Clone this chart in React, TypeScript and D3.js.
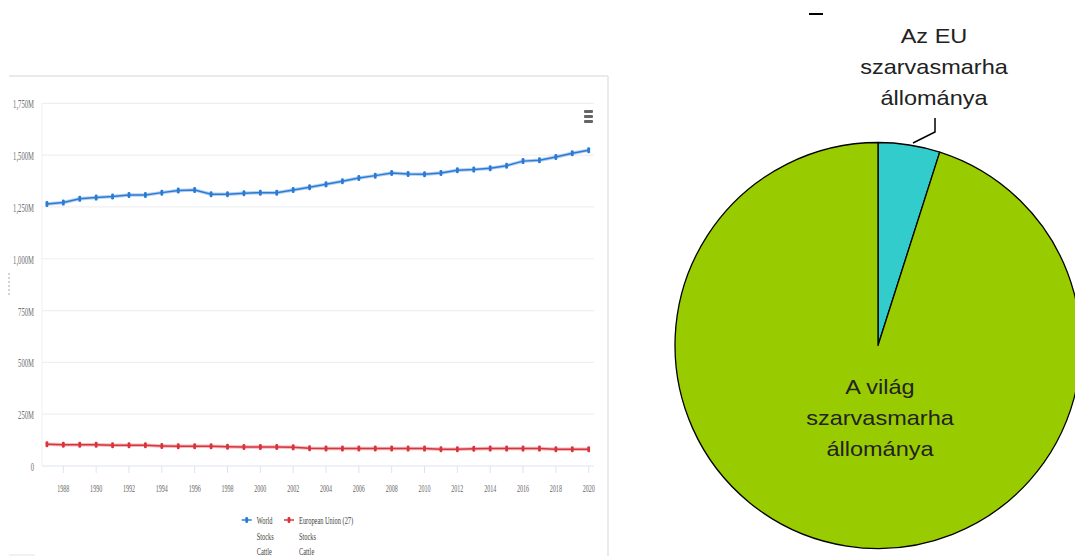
import React from "react";
import * as d3 from "d3";

// Annual cattle stocks, millions of head
const years = d3.range(1987, 2021);
const worldStocks = [
  1264, 1271, 1289, 1295, 1300, 1308, 1308, 1319, 1329, 1332,
  1311, 1311, 1316, 1319, 1319, 1332, 1345, 1359, 1374, 1390,
  1401, 1414, 1409, 1408, 1414, 1427, 1430, 1437, 1449, 1471,
  1475, 1491, 1509, 1524,
];
const euStocks = [
  105, 103, 103, 103, 100, 100, 100, 97, 95, 95,
  95, 93, 92, 92, 92, 90, 86, 85, 85, 85,
  85, 85, 84, 84, 81, 81, 83, 84, 84, 84,
  84, 81, 81, 81,
];
const yTicks = [0, 250, 500, 750, 1000, 1250, 1500, 1750];
const yTickLabels = ["0", "250M", "500M", "750M", "1,000M", "1,250M", "1,500M", "1,750M"];
const xTickYears = d3.range(1988, 2021, 2);

const seriesNames = ["World", "European Union (27)"];
const seriesColors = ["#2b7bd6", "#d9343c"];
const legendSubLines = ["Stocks", "Cattle"];

// Pie: EU herd vs the rest of the world herd
const pieLabels = ["Az EU szarvasmarha állománya", "A világ szarvasmarha állománya"];
const pieValues = [75, 1450];
const pieColors = ["#33cccc", "#99cc00"];

const SERIF = "'Liberation Serif', 'DejaVu Serif', serif";
const SANS = "'Liberation Sans', Arial, sans-serif";

export default function App() {
  const x = d3.scaleLinear().domain([1987, 2020]).range([46.9, 588.7]);
  const y = d3.scaleLinear().domain([0, 1750]).range([466, 103.3]);
  const plotLeft = 42;
  const plotRight = 594;

  const line = d3
    .line<number>()
    .x((_, i) => x(years[i]))
    .y((d) => y(d));

  const series = [worldStocks, euStocks];

  // pie geometry
  const cx = 878;
  const cy = 345.5;
  const r = 203;
  const arcs = d3.pie<number>().sort(null).startAngle(0).endAngle(2 * Math.PI)(pieValues);
  const arcGen = d3.arc<d3.PieArcDatum<number>>().innerRadius(0).outerRadius(r);

  const condensed = (tx: number, ty: number, sx = 0.55) => `translate(${tx},${ty}) scale(${sx},1)`;

  return (
    <svg
      width={1075}
      height={556}
      style={{ position: "absolute", left: 0, top: 0, background: "#fff" }}
    >
      {/* chart frame */}
      <line x1={9} x2={608} y1={76} y2={76} stroke="#e3e3e3" strokeWidth={1.5} />
      <line x1={608} x2={608} y1={76} y2={556} stroke="#e3e3e3" strokeWidth={1.5} />
      <line x1={9} x2={35} y1={555} y2={555} stroke="#e3e3e3" strokeWidth={1} />

      {/* gridlines */}
      {yTicks.map((t) => (
        <line
          key={t}
          x1={plotLeft}
          x2={plotRight}
          y1={y(t)}
          y2={y(t)}
          stroke={t === 0 ? "#dde3ee" : "#efefef"}
          strokeWidth={1.2}
        />
      ))}
      <line x1={plotLeft} x2={plotLeft} y1={103} y2={466} stroke="#f0f0f0" strokeWidth={1} />

      {/* y tick labels */}
      {yTicks.map((t, i) => (
        <text
          key={t}
          transform={condensed(34, y(t) + 5, 0.58)}
          textAnchor="end"
          fontFamily={SERIF}
          fontSize={11.5}
          fill="#707070"
        >
          {yTickLabels[i]}
        </text>
      ))}
      {/* rotated axis title stub */}
      <line x1={9} x2={9} y1={273} y2={297} stroke="#aaa" strokeWidth={1} strokeDasharray="2,2" />

      {/* x ticks */}
      {xTickYears.map((yr) => (
        <g key={yr}>
          <line x1={x(yr)} x2={x(yr)} y1={466} y2={473} stroke="#dde3ee" strokeWidth={1} />
          <text
            transform={condensed(x(yr), 492)}
            textAnchor="middle"
            fontFamily={SERIF}
            fontSize={11}
            fill="#666"
          >
            {yr}
          </text>
        </g>
      ))}

      {/* series */}
      {series.map((vals, s) => (
        <g key={s}>
          <path d={line(vals) || ""} fill="none" stroke={seriesColors[s]} strokeOpacity={0.35} strokeWidth={3.5} />
          <path d={line(vals) || ""} fill="none" stroke={seriesColors[s]} strokeWidth={1.5} />
          {vals.map((v, i) => (
            <rect
              key={i}
              x={x(years[i]) - 1.4}
              y={y(v) - 3}
              width={2.8}
              height={6}
              rx={1.2}
              fill={seriesColors[s]}
            />
          ))}
        </g>
      ))}

      {/* context menu icon */}
      {[111.5, 116.5, 121.5].map((by) => (
        <rect key={by} x={584} y={by - 1.5} width={9} height={3} rx={1} fill="#666" />
      ))}

      {/* legend */}
      {seriesNames.map((name, s) => {
        const lx = s === 0 ? 246.7 : 289;
        return (
          <g key={name}>
            <line x1={lx - 5} x2={lx + 5} y1={520} y2={520} stroke={seriesColors[s]} strokeWidth={1.5} />
            <rect x={lx - 1.4} y={517} width={2.8} height={6} rx={1.2} fill={seriesColors[s]} />
            {[name, ...legendSubLines].map((t, k) => (
              <text
                key={k}
                transform={condensed(lx + 10, 524 + k * 15.5, 0.58)}
                fontFamily={SERIF}
                fontSize={11}
                fill="#444"
              >
                {t}
              </text>
            ))}
          </g>
        );
      })}

      {/* pie */}
      <g transform={`translate(${cx},${cy})`}>
        {arcs.map((a, i) => (
          <path key={i} d={arcGen(a) || ""} fill={pieColors[i]} stroke="#000" strokeWidth={1.3} strokeLinejoin="round" />
        ))}
      </g>
      {/* leader line for the EU slice */}
      <polyline points="935,118 935,132 913,143" fill="none" stroke="#000" strokeWidth={1.5} />
      <line x1={809} x2={823} y1={14} y2={14} stroke="#000" strokeWidth={2} />

      {/* pie labels */}
      {[
        { lines: ["Az EU", "szarvasmarha", "állománya"], x: 934, y0: 43 },
        { lines: ["A világ", "szarvasmarha", "állománya"], x: 880, y0: 394 },
      ].map((lab, j) => (
        <g key={j} aria-label={pieLabels[j]}>
          {lab.lines.map((t, k) => (
            <text
              key={k}
              transform={`translate(${lab.x},${lab.y0 + k * 31}) scale(1.12,1)`}
              textAnchor="middle"
              fontFamily={SANS}
              fontSize={21}
              fill="#222"
            >
              {t}
            </text>
          ))}
        </g>
      ))}
    </svg>
  );
}
